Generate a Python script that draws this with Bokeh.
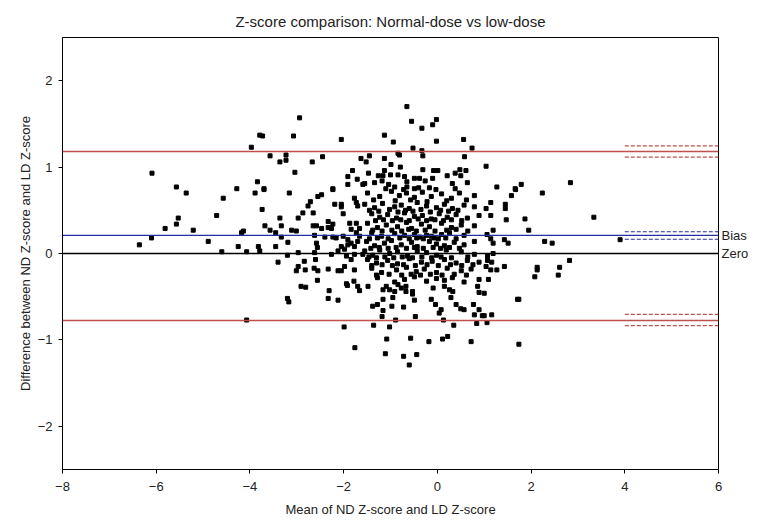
from bokeh.plotting import figure
from bokeh.models import Span, Range1d, FixedTicker, LinearAxis
from bokeh.embed import file_html
from bokeh.resources import INLINE

# ---- data ----
left_x = [-6.09, -5.57, -4.28, -5.36, -4.57, -5.53, -5.57, -4.71, -5.81, -5.21, -6.10, -6.36, -4.89, -4.25, -4.60, -4.18, -4.14, -4.07]
left_y = [0.93, 0.77, 0.75, 0.70, 0.64, 0.41, 0.34, 0.44, 0.29, 0.27, 0.18, 0.10, 0.14, 0.08, 0.02, 0.24, 0.26, -0.77]

upleft_x = [-2.94, -3.79, -3.73, -3.07, -2.05, -3.97, -3.57, -3.23, -3.36, -3.23, -2.45, -2.67, -1.63, -3.04, -1.81, -1.91, -1.71, -3.84, -1.91, -1.59, -3.70, -2.23]
upleft_y = [1.57, 1.37, 1.36, 1.36, 1.32, 1.23, 1.13, 1.14, 1.06, 1.08, 1.12, 1.06, 1.10, 0.94, 0.96, 0.89, 0.86, 0.83, 0.80, 0.80, 0.75, 0.75]

upmid_x = [-0.65, -0.55, -0.02, -0.10, -0.33, -1.13, -0.94, -0.02, 0.56, -0.52,
           -0.33, 0.74, -1.45, -0.84, -0.81, -0.31, 0.58, -1.52, -1.13, -0.99,
           -0.79, -0.31, -0.08, 0.01, 0.48, 0.61, -1.47, -1.26, -1.16, -1.13,
           -1.00, -0.84, -0.70, -0.49, -0.38, -0.26, -0.10, 0.21, 0.38, 0.50,
           -1.55, -1.34, -1.18, -1.04, -0.91, -0.65, -0.65, -0.49, -0.17, 0.32, 0.64]
upmid_y = [1.70, 1.53, 1.55, 1.49, 1.45, 1.37, 1.29, 1.30, 1.32, 1.22,
           1.19, 1.22, 1.13, 1.16, 1.14, 1.13, 1.12, 1.06, 1.10, 1.03,
           1.00, 0.97, 0.96, 0.96, 0.97, 0.96, 0.93, 0.90, 0.90, 0.96,
           0.91, 0.91, 0.89, 0.87, 0.87, 0.84, 0.87, 0.90, 0.93, 0.90,
           0.81, 0.82, 0.84, 0.80, 0.77, 0.83, 0.77, 0.75, 0.76, 0.81, 0.82]

upright_x = [1.04, 1.27, 1.66, 1.79, 2.84, 3.34, 3.90]
upright_y = [1.01, 0.77, 0.75, 0.80, 0.82, 0.42, 0.16]

midleft_x = [-3.89, -3.70, -3.16, -2.47, -2.55, -2.23, -3.74, -2.71, -2.76, -2.19,
             -2.05, -2.05, -1.77, -1.73, -1.70, -2.87, -2.65, -2.01, -3.36, -2.97,
             -2.33, -2.23, -1.87, -1.73, -3.68, -3.33, -2.65, -2.58, -3.57, -3.45,
             -3.11, -3.01, -2.47, -2.33, -2.26, -1.84, -1.66, -2.62, -2.40, -2.23,
             -2.16, -3.33, -3.19, -2.01, -1.91, -1.84, -1.73, -1.66, -3.82, -3.45,
             -3.79, -4.07, -2.58, -2.56, -2.05, -1.98, -2.12, -1.91, -1.77, -1.70,
             -3.20, -2.97, -2.62, -2.26, -1.94, -1.77, -1.59, -3.40, -2.84, -2.60,
             -2.97, -2.82, -3.01, -2.63, -2.55, -2.33, -2.12, -2.05, -1.98, -1.77,
             -1.84, -2.56, -1.94, -1.78]
midleft_y = [0.70, 0.74, 0.70, 0.68, 0.66, 0.74, 0.51, 0.60, 0.55, 0.57,
             0.57, 0.54, 0.64, 0.59, 0.55, 0.47, 0.47, 0.46, 0.41, 0.41,
             0.37, 0.34, 0.35, 0.35, 0.32, 0.32, 0.32, 0.32, 0.27, 0.24,
             0.27, 0.26, 0.29, 0.30, 0.29, 0.28, 0.29, 0.21, 0.19, 0.19,
             0.18, 0.19, 0.13, 0.20, 0.16, 0.12, 0.24, 0.20, 0.08, 0.08,
             0.03, 0.02, 0.12, 0.07, 0.08, 0.05, 0.03, 0.10, 0.08, 0.14,
             -0.02, 0.01, 0.01, -0.01, -0.03, -0.01, -0.01, -0.10, -0.09, -0.07,
             -0.15, -0.19, -0.20, -0.17, -0.20, -0.18, -0.20, -0.20, -0.15, -0.19,
             -0.07, -0.31, -0.35, -0.32]

core_x = [
    -1.49, -1.23, -0.98, -0.81, -0.66, -0.49, -0.32, -0.13, 0.09, 0.30, 0.47, 0.79,
    -1.55, -1.34, -1.17, -0.91, -0.77, -0.60, -0.43, -0.23, -0.02, 0.15, 0.32, 0.57, 0.79,
    -1.40, -1.23, -1.06, -0.87, -0.70, -0.49, -0.32, -0.13, 0.04, 0.21, 0.40, 0.64, 0.89,
    -1.49, -1.28, -1.09, -0.85, -0.66, -0.55, -0.34, -0.17, 0.09, 0.30, 0.51, 0.79,
    -1.40, -1.19, -0.91, -0.70, -0.49, -0.38, -0.23, -0.13, 0.09, 0.26, 0.57,
    -1.51, -1.34, -1.13, -0.98, -0.77, -0.55, -0.43, -0.17, -0.02, 0.15, 0.36, 0.57, 0.79,
    -1.55, -1.38, -1.23, -1.02, -0.85, -0.64, -0.43, -0.23, -0.02, 0.19, 0.51, 0.79,
    -1.49, -1.30, -1.06, -0.85, -0.60, -0.34, -0.11, 0.15, 0.40, 0.64, 0.89,
    -1.40, -1.19, -0.87, -0.66, -0.45, -0.28, -0.02, 0.21, 0.51, 0.72,
    -1.28, -0.91, -0.70, -0.49, -0.23, -0.02, 0.15, 0.32, 0.57, 0.89,
    -1.36, -1.10, -0.90, -0.72, -0.57, -0.40, -0.22, -0.03, 0.20, 0.38, 0.62,
    -1.45, -1.25, -1.02, -0.84, -0.68, -0.52, -0.35, -0.15, 0.07, 0.24, 0.44,
    -1.32, -1.15, -0.96, -0.78, -0.60, -0.41, -0.23, -0.05, 0.13, 0.30, 0.52,
    -1.38, -1.18, -0.97, -0.76, -0.61, -0.45, -0.26, -0.05, 0.20, 0.40, 0.65,
    -1.45, -1.28, -1.05, -0.80, -0.60, -0.44, -0.30, -0.07, 0.02, 0.18, 0.40,
    -1.42, -1.24, -1.05, -0.88, -0.66, -0.49, -0.30, -0.09, 0.07, 0.26, 0.47,
    -1.46, -1.30, -1.12, -0.93, -0.75, -0.53, -0.33, -0.12, 0.08, 0.30, 0.65,
    -1.40, -1.18, -0.96, -0.72, -0.47, -0.22, 0.02, 0.28, 0.52, 0.76,
    -1.30, -1.03, -0.76, -0.56, -0.36, -0.15, 0.10, 0.36, 0.62,
]
core_y = [
    0.70, 0.66, 0.72, 0.67, 0.70, 0.65, 0.71, 0.66, 0.69, 0.64, 0.70, 0.67,
    0.57, 0.53, 0.58, 0.54, 0.56, 0.52, 0.59, 0.55, 0.53, 0.57, 0.52, 0.56, 0.54,
    0.46, 0.42, 0.45, 0.41, 0.47, 0.43, 0.44, 0.40, 0.46, 0.42, 0.45, 0.41, 0.44,
    0.35, 0.30, 0.33, 0.31, 0.36, 0.29, 0.34, 0.31, 0.35, 0.30, 0.33, 0.32,
    0.24, 0.20, 0.23, 0.21, 0.22, 0.19, 0.21, 0.20, 0.22, 0.24, 0.21,
    0.14, 0.09, 0.12, 0.15, 0.10, 0.13, 0.08, 0.14, 0.11, 0.09, 0.13, 0.10, 0.14,
    0.03, -0.02, 0.04, 0.00, 0.02, -0.03, 0.03, 0.01, -0.02, 0.04, 0.02, -0.01,
    -0.07, -0.11, -0.08, -0.12, -0.06, -0.10, -0.09, -0.07, -0.11, -0.08, -0.10,
    -0.17, -0.22, -0.19, -0.16, -0.21, -0.18, -0.22, -0.17, -0.20, -0.18,
    -0.28, -0.33, -0.30, -0.27, -0.32, -0.29, -0.31, -0.28, -0.33, -0.30,
    0.62, 0.75, 0.61, 0.74, 0.62, 0.76, 0.60, 0.74, 0.61, 0.75, 0.62,
    0.50, 0.49, 0.51, 0.48, 0.50, 0.49, 0.51, 0.48, 0.50, 0.49, 0.50,
    0.38, 0.39, 0.38, 0.39, 0.38, 0.40, 0.38, 0.39, 0.38, 0.39, 0.38,
    0.27, 0.26, 0.27, 0.26, 0.28, 0.26, 0.27, 0.26, 0.27, 0.28, 0.26,
    0.17, 0.18, 0.17, 0.18, 0.17, 0.18, 0.17, 0.18, 0.17, 0.18, 0.17,
    0.06, 0.07, 0.06, 0.07, 0.06, 0.07, 0.06, 0.07, 0.06, 0.07, 0.06,
    -0.04, -0.05, -0.04, -0.05, -0.04, -0.05, -0.04, -0.05, -0.04, -0.05, -0.04,
    -0.14, -0.13, -0.14, -0.13, -0.14, -0.13, -0.14, -0.13, -0.14, -0.13,
    -0.25, -0.24, -0.25, -0.24, -0.25, -0.24, -0.25, -0.24, -0.25,
]

midright_x = [1.67, 1.58, 2.24, 1.14, 1.45, 1.45, 1.04, 1.14, 1.47, 1.87,
              1.19, 1.95, 1.06, 1.14, 1.19, 1.43, 1.51, 2.29, 2.45, 1.19,
              1.07, 1.07, 1.16, 2.82, 1.04, 1.14, 1.27, 1.43, 2.13, 2.13,
              2.61, 2.58, 2.08, 1.09]
midright_y = [0.74, 0.67, 0.70, 0.59, 0.57, 0.52, 0.52, 0.44, 0.39, 0.40,
              0.27, 0.27, 0.22, 0.17, 0.12, 0.16, 0.12, 0.14, 0.12, 0.00,
              -0.03, -0.08, -0.10, -0.08, -0.15, -0.19, -0.19, -0.15, -0.16, -0.19,
              -0.16, -0.25, -0.27, -0.30]

low_x = [-2.91, -2.81, -3.20, -3.17, -2.31, -2.33, -2.12, -1.92, -1.70, -1.66, -1.99, -1.76,
         -1.48, -1.16, -1.02, -0.91, -0.77, -0.67, -0.53, -0.53, -1.09, -0.84,
         -0.67, -0.09, 0.15, 0.26, 0.33, 0.86, 0.89, -1.16, -0.95, -0.49,
         -0.13, 0.29, -1.38, -1.28, -0.97, -0.72, -0.04, 0.40, 0.50, 0.57,
         0.77, 0.89, -1.16, 0.08, 0.04, 0.79, 0.96, -1.18, -0.47, -0.89,
         0.13, -1.36, -1.02, 0.35, 0.84, -1.08, -0.57, -0.18, 0.11, 0.22,
         0.72, -1.11, -0.72, -0.44, -0.60,
         1.00, 1.71, 1.74, 1.16, 1.00, 1.06, 1.74]
low_y = [-0.38, -0.39, -0.52, -0.56, -0.43, -0.52, -0.54, -0.37, -0.38, -0.43, -0.85, -1.09,
         -0.38, -0.42, -0.42, -0.44, -0.40, -0.44, -0.44, -0.47, -0.38, -0.36,
         -0.38, -0.40, -0.38, -0.42, -0.44, -0.38, -0.45, -0.53, -0.51, -0.54,
         -0.53, -0.51, -0.61, -0.59, -0.61, -0.62, -0.59, -0.59, -0.64, -0.65,
         -0.59, -0.65, -0.66, -0.65, -0.69, -0.71, -0.72, -0.73, -0.73, -0.77,
         -0.77, -0.83, -0.85, -0.83, -0.81, -0.99, -0.98, -1.02, -0.99, -0.96,
         -1.02, -1.16, -1.19, -1.17, -1.29,
         -0.46, -0.53, -0.53, -0.71, -0.72, -0.80, -1.05]

bias = 0.21
upper_loa = 1.18
lower_loa = -0.775
zero_line = 0.0
ci_x = [4.0, 6.0]
upper_ci = [1.245, 1.115]
bias_ci = [0.252, 0.165]
lower_ci = [-0.705, -0.835]

x_ticks = [-8, -6, -4, -2, 0, 2, 4, 6]
y_ticks = [-2, -1, 0, 1, 2]
right_labels = {0: "Zero", 0.21: "Bias"}

mean_z = left_x + upleft_x + upmid_x + upright_x + midleft_x + core_x + midright_x + low_x
diff_z = left_y + upleft_y + upmid_y + upright_y + midleft_y + core_y + midright_y + low_y

FONT = "Liberation Sans"
RED = "#c0504d"
BLUE = "#2530a0"
TXT = "#222222"

p = figure(frame_width=656, frame_height=432, output_backend="svg", toolbar_location=None,
           x_range=Range1d(-8, 6), y_range=Range1d(-2.5, 2.5),
           min_border_left=62, min_border_right=33, min_border_top=37, min_border_bottom=47,
           title="Z-score comparison: Normal-dose vs low-dose")
p.title.align = "center"
p.title.text_font = FONT
p.title.text_font_size = "15px"
p.title.text_font_style = "normal"
p.title.text_color = TXT
p.title.standoff = 15
p.title.text_line_height = 1.0

p.xgrid.visible = False
p.ygrid.visible = False
p.outline_line_color = "black"
p.outline_line_alpha = 1.0

p.xaxis.ticker = FixedTicker(ticks=x_ticks)
p.yaxis.ticker = FixedTicker(ticks=y_ticks)
for ax in (p.xaxis[0], p.yaxis[0]):
    ax.axis_label_text_font = FONT
    ax.axis_label_text_font_size = "13px"
    ax.axis_label_text_font_style = "normal"
    ax.axis_label_text_color = TXT
    ax.major_label_text_font = FONT
    ax.major_label_text_font_size = "13px"
    ax.major_label_text_color = TXT
    ax.minor_tick_line_color = None
    ax.major_tick_in = 0
    ax.major_tick_out = 4
    ax.axis_line_color = "black"
p.xaxis.major_label_standoff = 8
p.xaxis.axis_label_standoff = 8
p.yaxis.major_label_standoff = 6
p.yaxis.axis_label_standoff = 2
p.xaxis.axis_label = "Mean of ND Z-score and LD Z-score"
p.yaxis.axis_label = "Difference between ND Z-score and LD Z-score"

# right-hand line names
rax = LinearAxis(ticker=FixedTicker(ticks=list(right_labels.keys())),
                 major_label_overrides=right_labels,
                 major_tick_in=0, major_tick_out=0, minor_tick_line_color=None,
                 axis_line_color=None, major_label_standoff=3,
                 major_label_text_font=FONT, major_label_text_font_size="13px",
                 major_label_text_color=TXT)
p.add_layout(rax, "right")

# reference lines
p.add_layout(Span(location=zero_line, dimension="width", line_color="black", line_width=1.3))
p.add_layout(Span(location=bias, dimension="width", line_color=BLUE, line_width=1.3))
p.add_layout(Span(location=upper_loa, dimension="width", line_color=RED, line_width=1.5))
p.add_layout(Span(location=lower_loa, dimension="width", line_color=RED, line_width=1.5))

for v in upper_ci:
    p.line(ci_x, [v, v], line_color=RED, line_width=1.2, line_dash="4 2")
for v in lower_ci:
    p.line(ci_x, [v, v], line_color=RED, line_width=1.2, line_dash="4 2")
for v in bias_ci:
    p.line(ci_x, [v, v], line_color=BLUE, line_width=1.2, line_dash="4 2")

p.scatter(mean_z, diff_z, marker="square", size=4, color="black")

open("out.html", "w").write(file_html(p, INLINE))
